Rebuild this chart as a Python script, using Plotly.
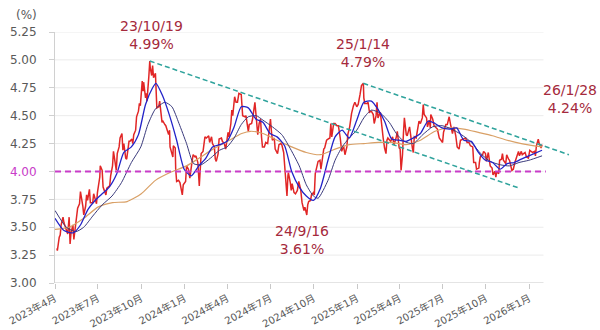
import plotly.graph_objects as go

# US 10-year Treasury yield (%), daily closes
yield_dates = [
    "2023-04-05","2023-04-06","2023-04-10","2023-04-12","2023-04-14","2023-04-18","2023-04-20","2023-04-24",
    "2023-04-26","2023-04-28","2023-05-01","2023-05-03","2023-05-05","2023-05-09","2023-05-11","2023-05-15",
    "2023-05-17","2023-05-19","2023-05-23","2023-05-25","2023-05-30","2023-06-01","2023-06-05","2023-06-07",
    "2023-06-09","2023-06-13","2023-06-15","2023-06-20","2023-06-22","2023-06-26","2023-06-28","2023-06-30",
    "2023-07-05","2023-07-06","2023-07-10","2023-07-12","2023-07-14","2023-07-18","2023-07-20","2023-07-24",
    "2023-07-26","2023-07-28","2023-08-01","2023-08-03","2023-08-07","2023-08-09","2023-08-11","2023-08-15",
    "2023-08-17","2023-08-21","2023-08-23","2023-08-25","2023-08-29","2023-08-31","2023-09-05","2023-09-07",
    "2023-09-11","2023-09-13","2023-09-15","2023-09-19","2023-09-21","2023-09-25","2023-09-27","2023-09-29",
    "2023-10-03","2023-10-05","2023-10-06","2023-10-10","2023-10-12","2023-10-13","2023-10-17","2023-10-19",
    "2023-10-20","2023-10-23","2023-10-25","2023-10-27","2023-10-31","2023-11-02","2023-11-03","2023-11-07",
    "2023-11-09","2023-11-14","2023-11-16","2023-11-20","2023-11-22","2023-11-28","2023-11-30","2023-12-01",
    "2023-12-05","2023-12-07","2023-12-08","2023-12-12","2023-12-13","2023-12-15","2023-12-19","2023-12-22",
    "2023-12-27","2023-12-29",
    "2024-01-03","2024-01-05","2024-01-09","2024-01-11","2024-01-12","2024-01-17","2024-01-19","2024-01-23",
    "2024-01-25","2024-01-29","2024-01-31","2024-02-01","2024-02-05","2024-02-09","2024-02-13","2024-02-16",
    "2024-02-21","2024-02-23","2024-02-27","2024-02-29","2024-03-04","2024-03-06","2024-03-08","2024-03-12",
    "2024-03-14","2024-03-19","2024-03-21","2024-03-25","2024-03-28","2024-04-02","2024-04-04","2024-04-08",
    "2024-04-10","2024-04-12","2024-04-16","2024-04-19","2024-04-22","2024-04-25","2024-04-30","2024-05-02",
    "2024-05-03","2024-05-08","2024-05-10","2024-05-15","2024-05-17","2024-05-22","2024-05-24","2024-05-29",
    "2024-05-31","2024-06-04","2024-06-07","2024-06-10","2024-06-12","2024-06-14","2024-06-18","2024-06-21",
    "2024-06-25","2024-06-28","2024-07-01","2024-07-03","2024-07-05","2024-07-09","2024-07-11","2024-07-16",
    "2024-07-19","2024-07-23","2024-07-25","2024-07-29","2024-08-01","2024-08-05","2024-08-07","2024-08-08",
    "2024-08-12","2024-08-14","2024-08-16","2024-08-20","2024-08-23","2024-08-27","2024-08-30","2024-09-03",
    "2024-09-06","2024-09-10","2024-09-12","2024-09-16","2024-09-18","2024-09-20","2024-09-24","2024-09-26",
    "2024-09-30","2024-10-02","2024-10-04","2024-10-08","2024-10-10","2024-10-14","2024-10-16","2024-10-18",
    "2024-10-22","2024-10-24","2024-10-28","2024-10-31","2024-11-04","2024-11-06","2024-11-08","2024-11-12",
    "2024-11-15","2024-11-19","2024-11-22","2024-11-26","2024-11-29","2024-12-03","2024-12-06","2024-12-10",
    "2024-12-12","2024-12-16","2024-12-18","2024-12-20","2024-12-24","2024-12-27","2024-12-31",
    "2025-01-03","2025-01-07","2025-01-10","2025-01-14","2025-01-15","2025-01-17","2025-01-22","2025-01-24",
    "2025-01-27","2025-01-31","2025-02-04","2025-02-06","2025-02-10","2025-02-12","2025-02-14","2025-02-19",
    "2025-02-21","2025-02-25","2025-02-28","2025-03-03","2025-03-05","2025-03-07","2025-03-11","2025-03-13",
    "2025-03-17","2025-03-20","2025-03-25","2025-03-27","2025-03-31","2025-04-02","2025-04-04","2025-04-07",
    "2025-04-09","2025-04-11","2025-04-15","2025-04-17","2025-04-22","2025-04-24","2025-04-28","2025-04-30",
    "2025-05-02","2025-05-06","2025-05-09","2025-05-12","2025-05-15","2025-05-19","2025-05-21","2025-05-23",
    "2025-05-28","2025-05-30","2025-06-03","2025-06-05","2025-06-06","2025-06-10","2025-06-13","2025-06-17",
    "2025-06-20","2025-06-24","2025-06-27","2025-07-01","2025-07-03","2025-07-08","2025-07-11","2025-07-15",
    "2025-07-18","2025-07-22","2025-07-25","2025-07-29","2025-08-01","2025-08-05","2025-08-08","2025-08-12",
    "2025-08-14","2025-08-19","2025-08-22","2025-08-26","2025-08-29","2025-09-03","2025-09-05","2025-09-09",
    "2025-09-11","2025-09-16","2025-09-17","2025-09-19","2025-09-24","2025-09-26","2025-09-30","2025-10-02",
    "2025-10-06","2025-10-10","2025-10-14","2025-10-16","2025-10-20","2025-10-22","2025-10-24","2025-10-28",
    "2025-10-30","2025-11-03","2025-11-05","2025-11-07","2025-11-12","2025-11-14","2025-11-18","2025-11-20",
    "2025-11-25","2025-11-28","2025-12-02","2025-12-05","2025-12-09","2025-12-11","2025-12-15","2025-12-17",
    "2025-12-19","2025-12-23","2025-12-26","2025-12-30",
    "2026-01-02","2026-01-06","2026-01-08","2026-01-12","2026-01-14","2026-01-16","2026-01-20","2026-01-22",
    "2026-01-26","2026-01-28",
]
yield_values = [
    3.31,3.29,3.41,3.43,3.52,3.59,3.54,3.49,
    3.45,3.44,3.59,3.35,3.45,3.52,3.39,3.51,
    3.57,3.67,3.71,3.82,3.69,3.61,3.69,3.79,
    3.74,3.84,3.72,3.72,3.80,3.72,3.71,3.81,
    3.95,4.05,4.01,3.86,3.83,3.79,3.85,3.87,
    3.87,3.96,4.05,4.18,4.09,4.01,4.16,4.22,
    4.30,4.34,4.19,4.25,4.12,4.11,4.27,4.27,
    4.29,4.25,4.33,4.37,4.49,4.54,4.61,4.59,
    4.81,4.72,4.80,4.66,4.70,4.63,4.85,4.99,
    4.93,4.86,4.95,4.84,4.88,4.67,4.57,4.58,
    4.63,4.44,4.45,4.42,4.41,4.33,4.37,4.22,
    4.17,4.13,4.23,4.21,4.02,3.91,3.92,3.90,
    3.79,3.88,
    3.91,4.05,4.02,3.98,3.94,4.10,4.15,4.13,
    4.14,4.08,3.91,3.87,4.16,4.18,4.31,4.30,
    4.32,4.26,4.31,4.25,4.22,4.11,4.09,4.16,
    4.29,4.30,4.27,4.25,4.20,4.35,4.31,4.43,
    4.55,4.50,4.67,4.62,4.62,4.70,4.69,4.58,
    4.50,4.49,4.50,4.36,4.42,4.43,4.47,4.62,
    4.51,4.33,4.43,4.47,4.31,4.22,4.22,4.26,
    4.25,4.36,4.47,4.36,4.28,4.30,4.20,4.16,
    4.24,4.25,4.24,4.17,3.99,3.78,3.96,3.99,
    3.90,3.83,3.89,3.81,3.80,3.83,3.91,3.84,
    3.72,3.65,3.68,3.61,3.70,3.73,3.74,3.79,
    3.81,3.79,3.98,4.04,4.09,4.10,4.02,4.08,
    4.20,4.21,4.28,4.29,4.30,4.43,4.31,4.43,
    4.43,4.41,4.41,4.30,4.18,4.23,4.15,4.22,
    4.33,4.40,4.50,4.52,4.59,4.62,4.58,
    4.60,4.69,4.77,4.79,4.66,4.61,4.61,4.62,
    4.53,4.54,4.51,4.43,4.50,4.62,4.48,4.53,
    4.43,4.30,4.21,4.16,4.28,4.30,4.28,4.27,
    4.31,4.24,4.31,4.36,4.21,4.20,4.01,4.15,
    4.34,4.48,4.33,4.32,4.40,4.32,4.21,4.17,
    4.31,4.30,4.38,4.45,4.43,4.48,4.60,4.51,
    4.48,4.40,4.46,4.39,4.51,4.47,4.41,4.39,
    4.38,4.30,4.28,4.26,4.35,4.42,4.42,4.49,
    4.42,4.34,4.40,4.32,4.22,4.20,4.28,4.29,
    4.29,4.30,4.26,4.26,4.23,4.22,4.08,4.08,
    4.02,4.03,4.08,4.13,4.15,4.18,4.16,4.09,
    4.17,4.05,4.03,3.97,4.00,3.95,4.00,3.98,
    4.10,4.11,4.16,4.10,4.07,4.15,4.11,4.10,
    4.01,4.02,4.09,4.14,4.18,4.14,4.18,4.15,
    4.16,4.17,4.13,4.12,
    4.19,4.17,4.17,4.18,4.14,4.23,4.29,4.25,
    4.21,4.24,
]

# Short moving average
ma_short_dates = [
    "2023-04-01","2023-04-20","2023-05-10","2023-05-25","2023-06-10","2023-06-25","2023-07-10","2023-07-25",
    "2023-08-10","2023-08-25","2023-09-10","2023-09-25","2023-10-10","2023-10-25","2023-11-01","2023-11-15",
    "2023-11-30","2023-12-15","2023-12-31","2024-01-15","2024-01-31","2024-02-15","2024-02-29","2024-03-15",
    "2024-03-31","2024-04-15","2024-04-30","2024-05-15","2024-05-31","2024-06-15","2024-06-30","2024-07-15",
    "2024-07-31","2024-08-15","2024-08-31","2024-09-15","2024-09-30","2024-10-15","2024-10-31","2024-11-15",
    "2024-11-30","2024-12-15","2024-12-31","2025-01-15","2025-01-31","2025-02-15","2025-02-28","2025-03-15",
    "2025-03-31","2025-04-15","2025-04-30","2025-05-15","2025-05-31","2025-06-15","2025-06-30","2025-07-15",
    "2025-07-31","2025-08-15","2025-08-31","2025-09-15","2025-09-30","2025-10-15","2025-10-31","2025-11-15",
    "2025-11-30","2025-12-15","2025-12-31","2026-01-28",
]
ma_short_values = [
    3.58,3.47,3.45,3.52,3.66,3.74,3.80,3.86,
    3.98,4.17,4.22,4.33,4.60,4.75,4.79,4.68,
    4.50,4.28,4.02,3.96,4.05,4.12,4.22,4.24,
    4.27,4.40,4.58,4.57,4.47,4.44,4.34,4.31,
    4.23,4.00,3.86,3.78,3.74,3.85,4.10,4.31,
    4.37,4.30,4.46,4.62,4.63,4.55,4.45,4.29,
    4.28,4.27,4.30,4.34,4.45,4.43,4.39,4.38,
    4.39,4.28,4.27,4.17,4.10,4.08,4.02,4.07,
    4.08,4.11,4.14,4.19,
]

# Medium moving average
ma_mid_dates = [
    "2023-04-01","2023-04-25","2023-05-15","2023-06-01","2023-06-20","2023-07-10","2023-07-31","2023-08-20",
    "2023-09-10","2023-09-30","2023-10-15","2023-10-31","2023-11-20","2023-12-05","2023-12-20","2024-01-05",
    "2024-01-20","2024-02-05","2024-02-25","2024-03-15","2024-03-31","2024-04-15","2024-04-30","2024-05-15",
    "2024-06-01","2024-06-15","2024-07-05","2024-07-25","2024-08-10","2024-08-31","2024-09-15","2024-09-30",
    "2024-10-10","2024-10-31","2024-11-15","2024-11-30","2024-12-15","2024-12-31","2025-01-15","2025-01-31",
    "2025-02-20","2025-03-10","2025-03-25","2025-04-10","2025-04-30","2025-05-20","2025-06-10","2025-06-30",
    "2025-07-20","2025-08-10","2025-08-31","2025-09-20","2025-10-10","2025-10-31","2025-11-20","2025-12-10",
    "2025-12-31","2026-01-28",
]
ma_mid_values = [
    3.65,3.50,3.46,3.50,3.60,3.70,3.78,3.90,
    4.08,4.22,4.42,4.56,4.62,4.58,4.43,4.25,
    4.07,4.06,4.12,4.19,4.22,4.30,4.42,4.49,
    4.50,4.46,4.40,4.33,4.22,4.05,3.88,3.78,
    3.76,3.92,4.10,4.22,4.30,4.37,4.48,4.55,
    4.52,4.44,4.34,4.27,4.25,4.33,4.40,4.41,
    4.38,4.33,4.26,4.16,4.09,4.06,4.05,4.08,
    4.10,4.14,
]

# Long moving average
ma_long_dates = [
    "2023-04-01","2023-05-01","2023-06-01","2023-07-01","2023-08-01","2023-09-01","2023-10-01","2023-10-31",
    "2023-12-01","2024-01-05","2024-02-01","2024-03-01","2024-04-01","2024-05-01","2024-05-20","2024-06-15",
    "2024-07-15","2024-08-15","2024-09-15","2024-10-15","2024-11-15","2024-12-15","2025-01-15","2025-02-15",
    "2025-03-15","2025-04-15","2025-05-15","2025-06-15","2025-07-15","2025-08-15","2025-09-15","2025-10-15",
    "2025-11-15","2025-12-15","2026-01-28",
]
ma_long_values = [
    3.48,3.50,3.58,3.68,3.72,3.73,3.80,3.92,
    3.99,4.05,4.12,4.20,4.27,4.34,4.36,4.34,
    4.28,4.22,4.17,4.15,4.20,4.24,4.25,4.26,
    4.26,4.24,4.28,4.36,4.39,4.38,4.35,4.32,
    4.28,4.25,4.22,
]

# Descending trend lines (start and end of each)
trend_lower_dates = ["2023-10-19", "2025-12-11"]
trend_lower_values = [4.99, 3.85]
trend_upper_dates = ["2025-01-14", "2026-03-26"]
trend_upper_values = [4.79, 4.15]

support_level = 4.00

# Labelled points
label_dates = ["2023-10-19", "2024-09-16", "2025-01-14", "2026-01-28"]
label_values = [4.99, 3.61, 4.79, 4.24]
label_texts = ["23/10/19", "24/9/16", "25/1/14", "26/1/28"]

tick_dates = ["2023-04-01","2023-07-01","2023-10-01","2024-01-01","2024-04-01","2024-07-01",
              "2024-10-01","2025-01-01","2025-04-01","2025-07-01","2025-10-01","2026-01-01"]
tick_labels = ["2023年4月","2023年7月","2023年10月","2024年1月","2024年4月","2024年7月",
               "2024年10月","2025年1月","2025年4月","2025年7月","2025年10月","2026年1月"]
y_ticks = [3.00, 3.25, 3.50, 3.75, 4.00, 4.25, 4.50, 4.75, 5.00, 5.25]

x_start, x_end = "2023-04-01", "2026-04-10"
grid_end = "2026-01-31"

FONT = "DejaVu Sans, Noto Sans CJK JP, sans-serif"
GREY = "#595959"
LABEL_RED = "#a52a3c"
MAGENTA = "#c83cc8"
TEAL = "#2fa39c"

fig = go.Figure()

fig.add_trace(go.Scatter(x=yield_dates, y=yield_values, mode="lines",
                         line=dict(color="#e12626", width=1.5)))
fig.add_trace(go.Scatter(x=ma_long_dates, y=ma_long_values, mode="lines",
                         line=dict(color="#d9a066", width=1.2, shape="spline", smoothing=0.6)))
fig.add_trace(go.Scatter(x=ma_mid_dates, y=ma_mid_values, mode="lines",
                         line=dict(color="#3a3a7c", width=1.0, shape="spline", smoothing=0.6)))
fig.add_trace(go.Scatter(x=ma_short_dates, y=ma_short_values, mode="lines",
                         line=dict(color="#2323c8", width=1.3, shape="spline", smoothing=0.6)))
fig.add_trace(go.Scatter(x=[x_start, "2026-02-05"], y=[support_level, support_level], mode="lines",
                         line=dict(color=MAGENTA, width=2, dash="6px,4px")))
fig.add_trace(go.Scatter(x=trend_lower_dates, y=trend_lower_values, mode="lines",
                         line=dict(color=TEAL, width=1.5, dash="5px,3px")))
fig.add_trace(go.Scatter(x=trend_upper_dates, y=trend_upper_values, mode="lines",
                         line=dict(color=TEAL, width=1.5, dash="5px,3px")))

# horizontal grid and x axis line, stopping at the end of the data period
shapes = []
for v in y_ticks:
    shapes.append(dict(type="line", xref="x", yref="y", x0=x_start, x1=grid_end, y0=v, y1=v,
                       line=dict(color="#c8c8c8" if v == y_ticks[0] else "#ebebeb", width=1),
                       layer="below"))

# value labels
label_offsets = [(2, 26), (-5, -25), (0, 30), (28, 46)]
annotations = []
for d, v, t, (dx, dy) in zip(label_dates, label_values, label_texts, label_offsets):
    annotations.append(dict(x=d, y=v, xref="x", yref="y", text=f"{t}<br>{v:.2f}%",
                            showarrow=False, xshift=dx, yshift=dy, align="center",
                            font=dict(family=FONT, size=14, color=LABEL_RED)))
annotations.append(dict(x=(26 - 55) / 521, y=(283 - 15) / 251, xref="paper", yref="paper",
                        xanchor="center", yanchor="middle", text="(%)", showarrow=False,
                        font=dict(family=FONT, size=12, color=GREY)))

y_text = [f"{v:.2f}" for v in y_ticks]
y_text = [f'<span style="color:{MAGENTA}">{t}</span>' if v == support_level else t
          for v, t in zip(y_ticks, y_text)]

fig.update_layout(
    width=600, height=330,
    margin=dict(l=55, r=24, t=32, b=47),
    paper_bgcolor="white", plot_bgcolor="white",
    showlegend=False,
    shapes=shapes,
    annotations=annotations,
    xaxis=dict(type="date", range=[x_start, x_end], tickvals=tick_dates, ticktext=tick_labels,
               tickangle=-28, showgrid=False, zeroline=False, showline=False, automargin=False,
               ticks="outside", ticklen=5, tickcolor="#c8c8c8",
               tickfont=dict(family=FONT, size=10, color=GREY)),
    yaxis=dict(range=[3.0, 5.25], tickvals=y_ticks, ticktext=y_text, showgrid=False,
               zeroline=False, showline=True, linecolor="#d0d0d0", linewidth=1, automargin=False,
               ticks="outside", ticklen=5, tickcolor="#d0d0d0", ticklabelstandoff=10,
               tickfont=dict(family=FONT, size=12, color=GREY)),
)

fig.write_html("out.html")
